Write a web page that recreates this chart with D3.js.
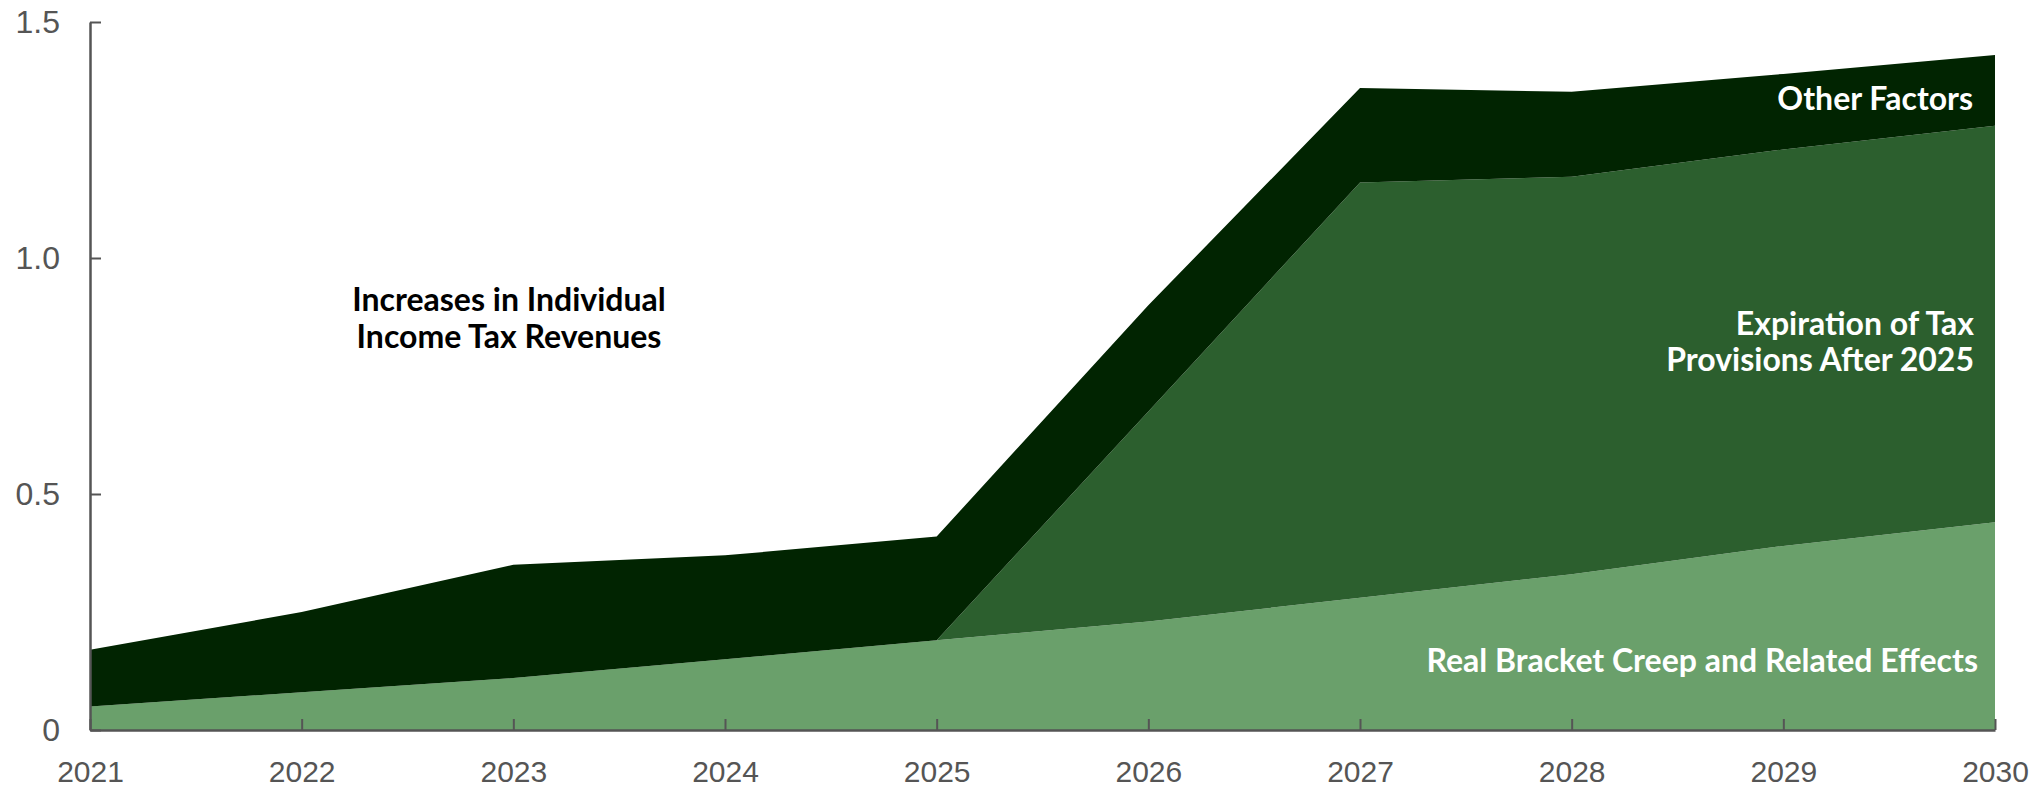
<!DOCTYPE html>
<html>
<head>
<meta charset="utf-8">
<script src="https://cdn.jsdelivr.net/npm/d3@7"></script>
<style>
  html, body { margin: 0; padding: 0; background: #fff; }
  svg { display: block; }
</style>
</head>
<body>
<svg id="chart" width="2039" height="787"></svg>
<script>
// ---- data ----
const years = [2021, 2022, 2023, 2024, 2025, 2026, 2027, 2028, 2029, 2030];
const bracketCreep = [0.05, 0.08, 0.11, 0.15, 0.19, 0.23, 0.28, 0.33, 0.39, 0.44];
const expiration   = [0, 0, 0, 0, 0, 0.445, 0.88, 0.842, 0.84, 0.84];
const otherFactors = [0.12, 0.17, 0.24, 0.22, 0.22, 0.225, 0.20, 0.18, 0.16, 0.15];
const yTicks = [0, 0.5, 1.0, 1.5];
const seriesKeys = ["bracket", "expiration", "other"];
const seriesColors = ["#6aa06b", "#2c5f2e", "#012401"];

const rows = years.map((yr, i) => ({
  year: yr, bracket: bracketCreep[i], expiration: expiration[i], other: otherFactors[i]
}));

const svg = d3.select("#chart");
const mLeft = 90, mRight = 1995, mTop = 22, mBottom = 730;

const x = d3.scaleLinear().domain([2021, 2030]).range([mLeft, mRight]);
const y = d3.scaleLinear().domain([0, 1.5]).range([mBottom, mTop]);

const stacked = d3.stack().keys(seriesKeys)(rows);
const area = d3.area()
  .x(d => x(d.data.year))
  .y0(d => y(d[0]))
  .y1(d => y(d[1]));

svg.append("g").selectAll("path")
  .data(stacked)
  .join("path")
  .attr("d", area)
  .attr("fill", (d, i) => seriesColors[i]);

// axes
const axisColor = "#555";
const fontAxis = "'Liberation Sans', Arial, sans-serif";

const yAxis = svg.append("g")
  .attr("transform", `translate(${mLeft},0)`)
  .call(d3.axisLeft(y).tickValues(yTicks).tickSize(-11).tickSizeOuter(0).tickPadding(30)
    .tickFormat(d => d === 0 ? "0" : d3.format(".1f")(d)));
yAxis.select(".domain").attr("stroke", axisColor).attr("stroke-width", 2.5);
yAxis.selectAll(".tick line").attr("stroke", axisColor).attr("stroke-width", 2);
yAxis.selectAll(".tick text")
  .attr("fill", axisColor).attr("font-family", fontAxis).attr("font-size", 32);

const xAxis = svg.append("g")
  .attr("transform", `translate(0,${mBottom})`)
  .call(d3.axisBottom(x).tickValues(years).tickSize(-11).tickSizeOuter(0).tickPadding(31)
    .tickFormat(d3.format("d")));
xAxis.select(".domain").attr("stroke", axisColor).attr("stroke-width", 2.5);
xAxis.selectAll(".tick line").attr("stroke", axisColor).attr("stroke-width", 2);
xAxis.selectAll(".tick text")
  .attr("fill", axisColor).attr("font-family", fontAxis).attr("font-size", 30);

// annotations
const fontLabel = "Lato, 'Open Sans', sans-serif";
function label(lines, xPos, yBase, anchor, color, lh) {
  const t = svg.append("text")
    .attr("font-family", fontLabel).attr("font-weight", 700).attr("font-size", 32)
    .attr("fill", color).attr("text-anchor", anchor);
  lines.forEach((s, i) => {
    t.append("tspan").attr("x", xPos).attr("y", yBase + i * lh).text(s);
  });
}
label(["Increases in Individual", "Income Tax Revenues"], 509, 311, "middle", "#000", 37);
label(["Other Factors"], 1973, 110, "end", "#fff", 36);
label(["Expiration of Tax", "Provisions After 2025"], 1974, 335, "end", "#fff", 36);
label(["Real Bracket Creep and Related Effects"], 1978, 672, "end", "#fff", 36);
</script>
</body>
</html>
